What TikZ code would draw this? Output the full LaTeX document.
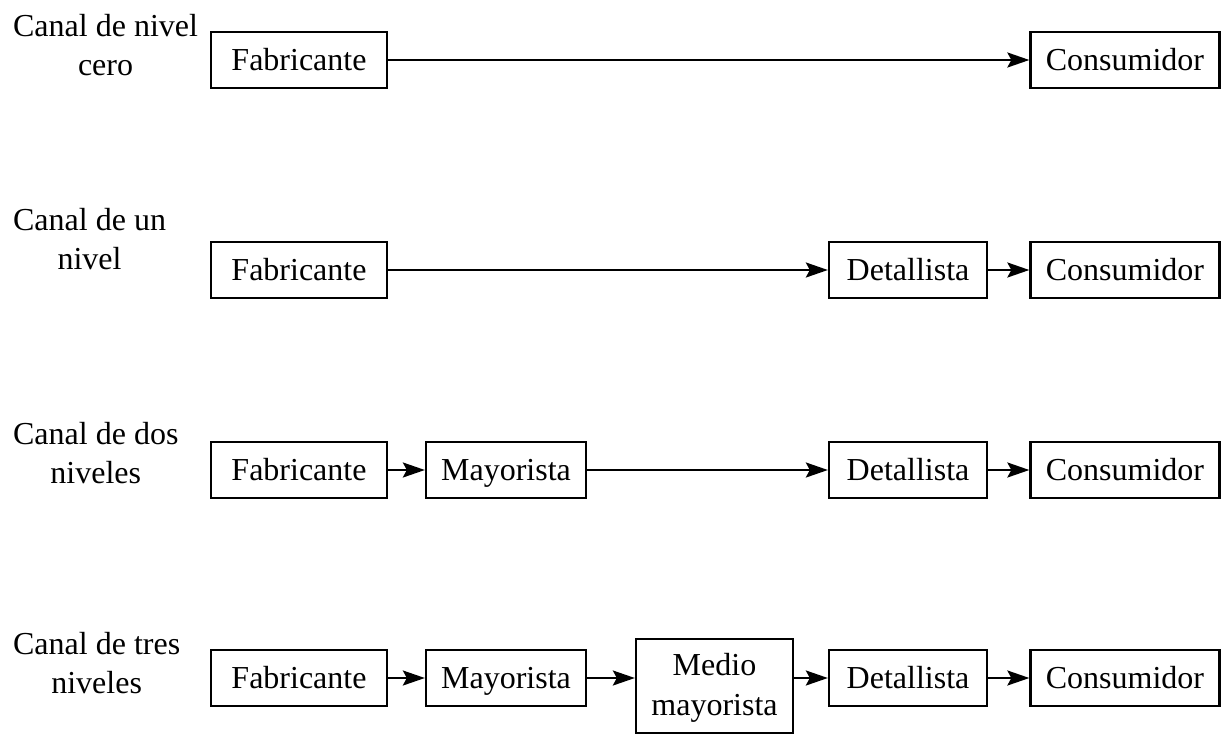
\documentclass[tikz,border=0pt]{standalone}
\usepackage{fontspec}
\setmainfont{Liberation Serif}
\usetikzlibrary{arrows.meta}

\begin{document}
\begin{tikzpicture}[x=1pt,y=-1pt,line width=2.3pt,
  >={Stealth[length=22pt,width=15pt,inset=4pt]},
  box/.style={draw,inner sep=0pt,minimum width=158pt,minimum height=56pt,
    text height=24pt,text depth=4pt,font=\fontsize{32}{40}\selectfont},
  canal/.style={anchor=west,align=center,inner sep=0pt,
    font=\fontsize{32}{39}\selectfont}]
  \useasboundingbox (0,0) rectangle (1223,734);

  % canal labels
  \node[canal] (l1) at (12,45) {Canal de nivel\\cero};
  \node[canal] (l2) at (12,239) {Canal de un\\nivel};
  \node[canal] (l3) at (12,453) {Canal de dos\\niveles};
  \node[canal] (l4) at (12,663) {Canal de tres\\niveles};

  % nivel cero
  \node[box,minimum width=176pt] (fab1) at (299,60) {Fabricante};
  \node[box,minimum width=189pt] (con1) at (1125,60) {Consumidor};
  % un nivel
  \node[box,minimum width=176pt] (fab2) at (299,270) {Fabricante};
  \node[box] (det2) at (908,270) {Detallista};
  \node[box,minimum width=189pt] (con2) at (1125,270) {Consumidor};
  % dos niveles
  \node[box,minimum width=176pt] (fab3) at (299,470) {Fabricante};
  \node[box,minimum width=160pt] (may3) at (506,470) {Mayorista};
  \node[box] (det3) at (908,470) {Detallista};
  \node[box,minimum width=189pt] (con3) at (1125,470) {Consumidor};
  % tres niveles
  \node[box,minimum width=176pt] (fab4) at (299,678) {Fabricante};
  \node[box,minimum width=160pt] (may4) at (506,678) {Mayorista};
  \node[box,minimum width=157pt,minimum height=94pt,align=center,
    text height=64pt,text depth=6pt] (med4) at (714.5,686) {Medio\\mayorista};
  \node[box] (det4) at (908,678) {Detallista};
  \node[box,minimum width=189pt] (con4) at (1125,678) {Consumidor};

  \path[->]
    (fab1) edge (con1)
    (fab2) edge (det2)
    (det2) edge (con2)
    (fab3) edge (may3)
    (may3) edge (det3)
    (det3) edge (con3)
    (fab4) edge (may4)
    (may4) edge (med4.west |- may4)
    (med4.east |- det4) edge (det4)
    (det4) edge (con4);
\end{tikzpicture}
\end{document}
